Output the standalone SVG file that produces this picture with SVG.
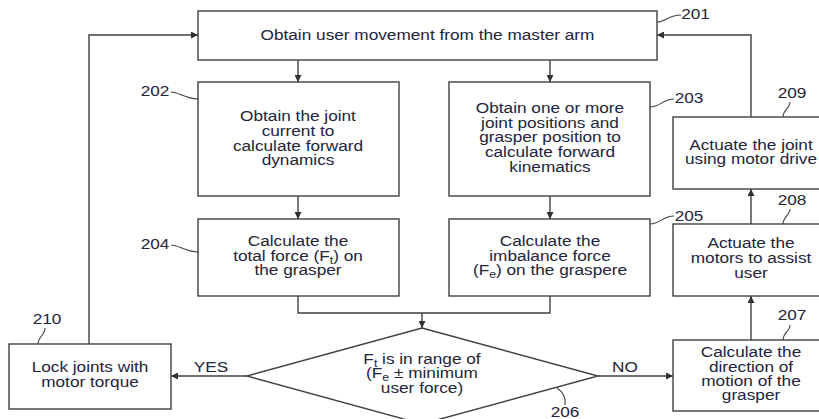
<svg xmlns="http://www.w3.org/2000/svg" width="819" height="419" viewBox="0 0 819 419">
  <style>
    .box { fill: #ffffff; stroke: #404040; stroke-width: 1.4; }
    .wire { fill: none; stroke: #404040; stroke-width: 1.4; }
    .lead { fill: none; stroke: #404040; stroke-width: 1.1; }
    text { font-family: "Liberation Sans", Arial, sans-serif; font-size: 14px; fill: #23233a; text-anchor: middle; }
    .sub { font-size: 10px; baseline-shift: -3px; }
  </style>
  <defs>
    <marker id="arrow" viewBox="0 0 10 10" refX="10" refY="5" markerWidth="7" markerHeight="7" markerUnits="userSpaceOnUse" orient="auto">
      <path d="M0,0 L10,5 L0,10 z" fill="#303030"/>
    </marker>
  </defs>
  <rect width="819" height="419" fill="#ffffff"/>

  <!-- connectors -->
  <g id="connectors">
    <path class="wire" d="M298,60 V82" marker-end="url(#arrow)"/>
    <path class="wire" d="M550,60 V82" marker-end="url(#arrow)"/>
    <path class="wire" d="M298,196 V219" marker-end="url(#arrow)"/>
    <path class="wire" d="M550,196 V219" marker-end="url(#arrow)"/>
    <path class="wire" d="M298,296 V313 H550 V296"/>
    <path class="wire" d="M422,313 V328" marker-end="url(#arrow)"/>
    <path class="wire" d="M247,376 H171" marker-end="url(#arrow)"/>
    <path class="wire" d="M598,376 H673" marker-end="url(#arrow)"/>
    <path class="wire" d="M751,340 V296" marker-end="url(#arrow)"/>
    <path class="wire" d="M751,224 V189" marker-end="url(#arrow)"/>
    <path class="wire" d="M751,117 V35 H657" marker-end="url(#arrow)"/>
    <path class="wire" d="M89,344 V35 H198" marker-end="url(#arrow)"/>
    <text transform="translate(211,0) scale(1.23,1)" x="0" y="372">YES</text>
    <text transform="translate(625,0) scale(1.23,1)" x="0" y="372">NO</text>
  </g>

  <g id="n201">
    <rect class="box" x="198" y="11" width="459" height="49"/>
    <text transform="translate(427.5,0) scale(1.23,1)" x="0" y="40">Obtain user movement from the master arm</text>
    <path class="lead" d="M657,22 C666,22 668,15 681,15"/>
    <text transform="translate(695.5,0) scale(1.23,1)" x="0" y="19">201</text>
  </g>

  <g id="n202">
    <rect class="box" x="198" y="82" width="201" height="114"/>
    <g transform="translate(298,0) scale(1.23,1)">
      <text x="0" y="121">Obtain the joint</text>
      <text x="0" y="136">current to</text>
      <text x="0" y="151">calculate forward</text>
      <text x="0" y="165">dynamics</text>
    </g>
    <path class="lead" d="M171,92 C179,92 185,99 198,99"/>
    <text transform="translate(155,0) scale(1.23,1)" x="0" y="96">202</text>
  </g>

  <g id="n203">
    <rect class="box" x="449" y="82" width="201" height="114"/>
    <g transform="translate(550,0) scale(1.23,1)">
      <text x="0" y="113">Obtain one or more</text>
      <text x="0" y="128">joint positions and</text>
      <text x="0" y="142">grasper position to</text>
      <text x="0" y="157">calculate forward</text>
      <text x="0" y="172">kinematics</text>
    </g>
    <path class="lead" d="M650,107 C660,107 663,99 674,99"/>
    <text transform="translate(689,0) scale(1.23,1)" x="0" y="103">203</text>
  </g>

  <g id="n204">
    <rect class="box" x="198" y="219" width="201" height="77"/>
    <g transform="translate(298,0) scale(1.23,1)">
      <text x="0" y="246">Calculate the</text>
      <text x="0" y="261">total force (F<tspan class="sub">t</tspan>) on</text>
      <text x="0" y="275">the grasper</text>
    </g>
    <path class="lead" d="M171,245 C179,245 185,252 198,252"/>
    <text transform="translate(155,0) scale(1.23,1)" x="0" y="249">204</text>
  </g>

  <g id="n205">
    <rect class="box" x="449" y="219" width="201" height="77"/>
    <g transform="translate(550,0) scale(1.23,1)">
      <text x="0" y="246">Calculate the</text>
      <text x="0" y="261">imbalance force</text>
      <text x="0" y="275">(F<tspan class="sub">e</tspan>) on the graspere</text>
    </g>
    <path class="lead" d="M650,224 C660,224 663,216 674,216"/>
    <text transform="translate(689,0) scale(1.23,1)" x="0" y="221">205</text>
  </g>

  <g id="n206">
    <polygon class="box" points="422,328 598,376 422,424 247,376"/>
    <g transform="translate(422,0) scale(1.23,1)">
      <text x="0" y="364">F<tspan class="sub">t</tspan> is in range of</text>
      <text x="0" y="378">(F<tspan class="sub">e</tspan> ± minimum</text>
      <text x="0" y="393">user force)</text>
    </g>
    <path class="lead" d="M557,388 C563,392 566,398 565,405"/>
    <text transform="translate(565,0) scale(1.23,1)" x="0" y="417">206</text>
  </g>

  <g id="n207">
    <rect class="box" x="673" y="340" width="156" height="71"/>
    <g transform="translate(751,0) scale(1.23,1)">
      <text x="0" y="357">Calculate the</text>
      <text x="0" y="372">direction of</text>
      <text x="0" y="386">motion of the</text>
      <text x="0" y="400">grasper</text>
    </g>
    <path class="lead" d="M783,340 C783,333 790,331 790,325"/>
    <text transform="translate(792,0) scale(1.23,1)" x="0" y="320">207</text>
  </g>

  <g id="n208">
    <rect class="box" x="673" y="224" width="156" height="72"/>
    <g transform="translate(751,0) scale(1.23,1)">
      <text x="0" y="248">Actuate the</text>
      <text x="0" y="263">motors to assist</text>
      <text x="0" y="278">user</text>
    </g>
    <path class="lead" d="M783,224 C783,217 790,215 790,209"/>
    <text transform="translate(792,0) scale(1.23,1)" x="0" y="205">208</text>
  </g>

  <g id="n209">
    <rect class="box" x="673" y="117" width="156" height="72"/>
    <g transform="translate(751,0) scale(1.23,1)">
      <text x="0" y="150">Actuate the joint</text>
      <text x="0" y="164">using motor drive</text>
    </g>
    <path class="lead" d="M783,117 C783,110 790,108 790,102"/>
    <text transform="translate(792,0) scale(1.23,1)" x="0" y="98">209</text>
  </g>

  <g id="n210">
    <rect class="box" x="9" y="344" width="162" height="65"/>
    <g transform="translate(90,0) scale(1.23,1)">
      <text x="0" y="372">Lock joints with</text>
      <text x="0" y="387">motor torque</text>
    </g>
    <path class="lead" d="M38,344 C38,337 45,335 45,328"/>
    <text transform="translate(47,0) scale(1.23,1)" x="0" y="324">210</text>
  </g>
</svg>
